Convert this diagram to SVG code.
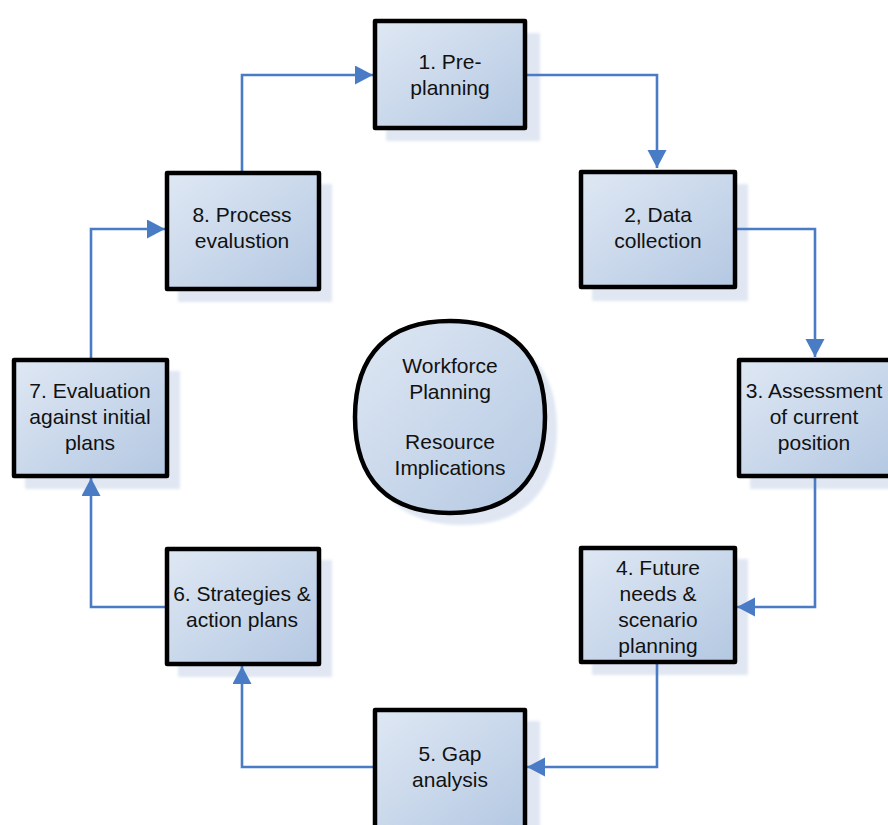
<svg xmlns="http://www.w3.org/2000/svg" width="888" height="825" viewBox="0 0 888 825">
<defs>
<linearGradient id="g" x1="0" y1="0" x2="1" y2="1">
<stop offset="0" stop-color="#dfe8f4"/>
<stop offset="1" stop-color="#b4c8e2"/>
</linearGradient>
<filter id="blur" x="-10%" y="-10%" width="120%" height="120%"><feGaussianBlur stdDeviation="1.5"/></filter>
<marker id="arr" markerUnits="userSpaceOnUse" markerWidth="20" markerHeight="20" refX="18" refY="9.5" orient="auto">
<path d="M0,0 L18,9.5 L0,19 Z" fill="#4a7cc6"/>
</marker>
<style>
.box{fill:url(#g);stroke:#000;stroke-width:4.5;stroke-linejoin:round}
.sh{fill:#d3dded;opacity:0.7;filter:url(#blur)}
.t{font-family:"Liberation Sans",Arial,sans-serif;font-size:21px;fill:#111;text-anchor:middle}
.c{fill:none;stroke:#4a7cc6;stroke-width:2.6}
</style>
</defs>
<rect width="888" height="825" fill="#fff"/>
<g id="shadows">
<rect class="sh" x="386" y="33" width="154" height="108"/>
<rect class="sh" x="592" y="184" width="156" height="117"/>
<rect class="sh" x="750" y="371" width="156" height="118"/>
<rect class="sh" x="592" y="559" width="156" height="116"/>
<rect class="sh" x="386" y="721" width="154" height="120"/>
<rect class="sh" x="178" y="560" width="154" height="117"/>
<rect class="sh" x="25" y="371" width="155" height="118"/>
<rect class="sh" x="178" y="184" width="154" height="118"/>
<path class="sh" d="M462,333 C523,333 557,366 557,429 C557,492 523,525 462,525 C401,525 367,492 367,429 C367,366 401,333 462,333 Z"/>
</g>
<g id="connectors">
<path class="c" d="M527,75 H657 V168" marker-end="url(#arr)"/>
<path class="c" d="M737,229 H815 V357" marker-end="url(#arr)"/>
<path class="c" d="M815,478 V607 H737" marker-end="url(#arr)"/>
<path class="c" d="M657,664 V767 H527" marker-end="url(#arr)"/>
<path class="c" d="M373,767 H242 V666" marker-end="url(#arr)"/>
<path class="c" d="M165,607 H91 V478" marker-end="url(#arr)"/>
<path class="c" d="M91,358 V229 H165" marker-end="url(#arr)"/>
<path class="c" d="M242,171 V75 H373" marker-end="url(#arr)"/>
</g>
<g id="n1"><rect class="box" x="375" y="21" width="150" height="107"/>
<text class="t" x="450" y="69">1. Pre-</text><text class="t" x="450" y="95">planning</text></g>
<g id="n2"><rect class="box" x="581" y="172" width="154" height="115"/>
<text class="t" x="658" y="222">2, Data</text><text class="t" x="658" y="248">collection</text></g>
<g id="n3"><rect class="box" x="739" y="360" width="154" height="116"/>
<text class="t" x="814" y="398">3. Assessment</text><text class="t" x="814" y="424">of current</text><text class="t" x="814" y="450">position</text></g>
<g id="n4"><rect class="box" x="581" y="548" width="154" height="114"/>
<text class="t" x="658" y="575">4. Future</text><text class="t" x="658" y="601">needs &amp;</text><text class="t" x="658" y="627">scenario</text><text class="t" x="658" y="653">planning</text></g>
<g id="n5"><rect class="box" x="375" y="710" width="150" height="120"/>
<text class="t" x="450" y="761">5. Gap</text><text class="t" x="450" y="787">analysis</text></g>
<g id="n6"><rect class="box" x="167" y="549" width="152" height="115"/>
<text class="t" x="242" y="601">6. Strategies &amp;</text><text class="t" x="242" y="627">action plans</text></g>
<g id="n7"><rect class="box" x="14" y="360" width="153" height="116"/>
<text class="t" x="90" y="398">7. Evaluation</text><text class="t" x="90" y="424">against initial</text><text class="t" x="90" y="450">plans</text></g>
<g id="n8"><rect class="box" x="167" y="173" width="152" height="116"/>
<text class="t" x="242" y="222">8. Process</text><text class="t" x="242" y="248">evalustion</text></g>
<g id="center"><path class="box" d="M450,321 C511,321 545,354 545,417 C545,480 511,513 450,513 C389,513 355,480 355,417 C355,354 389,321 450,321 Z"/>
<text class="t" x="450" y="373">Workforce</text><text class="t" x="450" y="399">Planning</text><text class="t" x="450" y="449">Resource</text><text class="t" x="450" y="475">Implications</text></g>
</svg>
